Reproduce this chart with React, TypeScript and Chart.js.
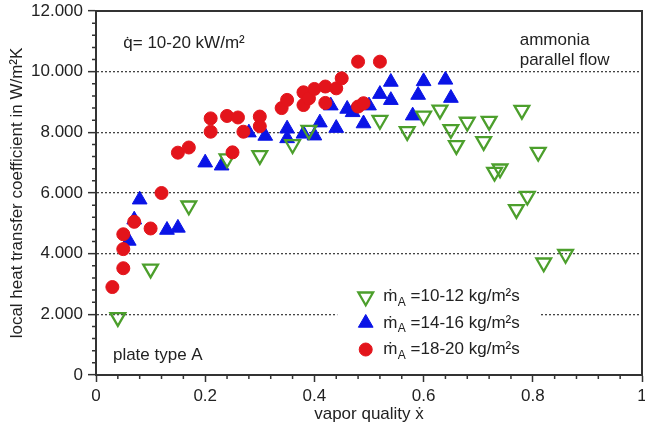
import React, { useEffect, useRef } from "react";
import { Chart, registerables } from "chart.js";
import { drawPoint } from "chart.js/helpers";

Chart.register(...registerables);

// ṁA = 10-12 kg/m²s (green, hollow down triangles)
const qualityLow = [0.04, 0.10, 0.17, 0.24, 0.30, 0.36, 0.39, 0.52, 0.57, 0.60, 0.63, 0.65, 0.66, 0.68, 0.72, 0.71, 0.78, 0.81, 0.73, 0.74, 0.79, 0.77, 0.82, 0.86];
const htcLow = [1900, 3500, 5580, 7130, 7240, 7600, 8070, 8400, 8030, 8540, 8740, 8100, 7570, 8340, 8370, 7700, 8730, 7350, 6690, 6800, 5900, 5460, 3700, 3980];

// ṁA = 14-16 kg/m²s (blue, filled up triangles)
const qualityMid = [0.06, 0.07, 0.08, 0.13, 0.15, 0.20, 0.23, 0.28, 0.31, 0.35, 0.35, 0.38, 0.40, 0.41, 0.43, 0.44, 0.46, 0.47, 0.49, 0.50, 0.52, 0.54, 0.54, 0.58, 0.59, 0.60, 0.64, 0.65];
const htcMid = [4420, 5120, 5780, 4780, 4850, 7000, 6900, 7990, 7880, 8120, 7800, 7950, 7890, 8320, 8880, 8140, 8770, 8660, 8290, 8880, 9260, 9660, 9060, 8550, 9230, 9680, 9730, 9130];

// ṁA = 18-20 kg/m²s (red, filled circles)
const qualityHigh = [0.03, 0.05, 0.05, 0.05, 0.07, 0.10, 0.12, 0.15, 0.17, 0.21, 0.21, 0.24, 0.26, 0.25, 0.27, 0.30, 0.30, 0.34, 0.35, 0.38, 0.38, 0.39, 0.40, 0.42, 0.42, 0.44, 0.45, 0.48, 0.52, 0.48, 0.49];
const htcHigh = [2900, 3520, 4150, 4640, 5050, 4830, 6000, 7330, 7500, 8460, 8020, 8540, 8490, 7340, 8020, 8520, 8200, 8800, 9070, 9320, 8900, 9120, 9430, 9510, 8970, 9450, 9780, 10330, 10330, 8850, 8960];

const yTickValues = [0, 2000, 4000, 6000, 8000, 10000, 12000];
const xTickValues = [0, 0.2, 0.4, 0.6, 0.8, 1];

const seriesRest = ["=10-12 kg/m²s", "=14-16 kg/m²s", "=18-20 kg/m²s"];
const seriesLabels = seriesRest.map((r) => "ṁA " + r);

const FONT = '"Liberation Sans", Arial, sans-serif';
const GREEN = "#4c9f2c";
const BLUE = "#0a14e6";
const RED = "#e3141b";
const INK = "#222222";

const toPoints = (xs: number[], ys: number[]) => xs.map((x, i) => ({ x, y: ys[i] }));

const decorPlugin = {
  id: "decor",
  beforeDraw(chart: any) {
    const { ctx, width, height } = chart;
    ctx.save();
    ctx.fillStyle = "#ffffff";
    ctx.fillRect(0, 0, width, height);
    ctx.restore();
  },
  afterDatasetsDraw(chart: any) {
    const { ctx, chartArea: ca } = chart;
    const xs = chart.scales.x;
    const ys = chart.scales.y;
    ctx.save();
    // minor ticks
    ctx.strokeStyle = "#333";
    ctx.lineWidth = 1.5;
    ctx.beginPath();
    for (let k = 1; k < 30; k++) {
      if (k % 5 === 0) continue;
      const py = ys.getPixelForValue(k * 400);
      ctx.moveTo(ca.left - 4, py);
      ctx.lineTo(ca.left, py);
    }
    for (let k = 1; k < 25; k++) {
      if (k % 5 === 0) continue;
      const px = xs.getPixelForValue(k * 0.04);
      ctx.moveTo(px, ca.bottom);
      ctx.lineTo(px, ca.bottom + 4);
    }
    ctx.stroke();
    // box top & right
    ctx.lineWidth = 2;
    ctx.beginPath();
    ctx.moveTo(ca.left, ca.top);
    ctx.lineTo(ca.right, ca.top);
    ctx.lineTo(ca.right, ca.bottom);
    ctx.stroke();

    // annotations
    ctx.fillStyle = INK;
    ctx.textBaseline = "middle";
    ctx.textAlign = "left";
    ctx.font = "17px " + FONT;
    ctx.fillText("q\u0307= 10-20 kW/m²", xs.getPixelForValue(0.05), ys.getPixelForValue(10950));
    ctx.fillText("ammonia", xs.getPixelForValue(0.776), ys.getPixelForValue(11050));
    ctx.fillText("parallel flow", xs.getPixelForValue(0.776), ys.getPixelForValue(10390));
    ctx.fillText("plate type A", xs.getPixelForValue(0.031), ys.getPixelForValue(660));

    // legend
    const bx0 = xs.getPixelForValue(0.442);
    const bx1 = xs.getPixelForValue(0.815);
    const by0 = ys.getPixelForValue(3470);
    const by1 = ys.getPixelForValue(330);
    ctx.fillStyle = "#ffffff";
    ctx.fillRect(bx0, by0, bx1 - bx0, by1 - by0);
    const rowsY = [2580, 1715, 840];
    const mx = xs.getPixelForValue(0.494);
    const tx = xs.getPixelForValue(0.526);
    chart.data.datasets.forEach((ds: any, i: number) => {
      const py = ys.getPixelForValue(rowsY[i]);
      ctx.save();
      ctx.fillStyle = ds.pointBackgroundColor;
      ctx.strokeStyle = ds.pointBorderColor;
      ctx.lineWidth = ds.pointBorderWidth;
      drawPoint(ctx, { pointStyle: ds.pointStyle, rotation: ds.pointRotation || 0, radius: ds.legendRadius, borderWidth: ds.pointBorderWidth }, mx, py);
      ctx.restore();
      ctx.fillStyle = INK;
      ctx.font = "17px " + FONT;
      ctx.fillText("ṁ", tx, py);
      const w1 = ctx.measureText("ṁ").width;
      ctx.font = "12px " + FONT;
      ctx.fillText("A", tx + w1 + 0.5, py + 6);
      const w2 = ctx.measureText("A").width;
      ctx.font = "17px " + FONT;
      ctx.fillText(" " + seriesRest[i], tx + w1 + w2 + 0.5, py);
    });
    ctx.restore();
  },
};

export default function App() {
  const ref = useRef<HTMLCanvasElement | null>(null);
  useEffect(() => {
    document.body.style.margin = "0";
    const canvas = ref.current;
    if (!canvas) return;
    const chart = new Chart(canvas, {
      type: "scatter",
      data: {
        datasets: [
          {
            label: seriesLabels[0],
            data: toPoints(qualityLow, htcLow),
            pointStyle: "triangle",
            pointRotation: 180,
            pointRadius: 8.5,
            legendRadius: 8.5,
            pointBackgroundColor: "rgba(0,0,0,0)",
            pointBorderColor: GREEN,
            pointBorderWidth: 2.3,
            order: 1,
          } as any,
          {
            label: seriesLabels[1],
            data: toPoints(qualityMid, htcMid),
            pointStyle: "triangle",
            pointRadius: 8.5,
            legendRadius: 8.5,
            pointBackgroundColor: BLUE,
            pointBorderColor: BLUE,
            pointBorderWidth: 1,
            order: 2,
          } as any,
          {
            label: seriesLabels[2],
            data: toPoints(qualityHigh, htcHigh),
            pointStyle: "circle",
            pointRadius: 6.5,
            legendRadius: 6.5,
            pointBackgroundColor: RED,
            pointBorderColor: RED,
            pointBorderWidth: 1,
            order: 0,
          } as any,
        ],
      },
      options: {
        animation: false,
        responsive: false,
        layout: { autoPadding: false, padding: { left: 0, top: 11, right: 3, bottom: 0 } },
        plugins: { legend: { display: false }, tooltip: { enabled: false } },
        scales: {
          x: {
            type: "linear",
            min: 0,
            max: 1,
            afterBuildTicks: (s: any) => {
              s.ticks = xTickValues.map((v) => ({ value: v }));
            },
            afterFit: (s: any) => {
              s.height = 59;
              s.paddingLeft = 0;
              s.paddingRight = 0;
            },
            ticks: {
              color: INK,
              font: { family: FONT, size: 17 },
              padding: 4,
              maxRotation: 0,
              autoSkip: false,
              callback: (v: any) => (v === 0 ? "0" : v === 1 ? "1" : String(Number(v).toFixed(1))),
            },
            grid: {
              drawOnChartArea: false,
              drawTicks: true,
              tickLength: 7,
              tickWidth: 1.5,
              tickColor: "#333",
            },
            border: { display: true, color: "#333", width: 2 },
            title: {
              display: true,
              text: "vapor quality ẋ",
              color: INK,
              font: { family: FONT, size: 17 },
              padding: { top: 0, bottom: 9 },
            },
          },
          y: {
            type: "linear",
            min: 0,
            max: 12000,
            afterBuildTicks: (s: any) => {
              s.ticks = yTickValues.map((v) => ({ value: v }));
            },
            afterFit: (s: any) => {
              s.width = 96;
              s.paddingTop = 0;
              s.paddingBottom = 0;
            },
            ticks: {
              color: INK,
              font: { family: FONT, size: 17 },
              padding: 5,
              autoSkip: false,
              callback: (v: any) => (v === 0 ? "0" : (Number(v) / 1000).toFixed(3)),
            },
            grid: {
              drawTicks: true,
              tickLength: 8,
              tickWidth: 1.5,
              tickColor: "#333",
              lineWidth: 1.3,
              color: (c: any) => (c.tick && c.tick.value > 0 && c.tick.value < 12000 ? "#444" : "rgba(0,0,0,0)"),
            },
            border: { display: true, color: "#333", width: 2, dash: [2, 2] },
            title: {
              display: true,
              text: "local heat transfer coefficient in W/m²K",
              color: INK,
              font: { family: FONT, size: 17 },
              padding: { top: 7, bottom: 0 },
            },
          },
        },
      },
      plugins: [decorPlugin],
    } as any);
    return () => chart.destroy();
  }, []);
  return (
    <div style={{ position: "absolute", left: 0, top: 0, width: 645, height: 434 }}>
      <canvas ref={ref} width={645} height={434} style={{ display: "block", width: 645, height: 434 }} />
    </div>
  );
}
